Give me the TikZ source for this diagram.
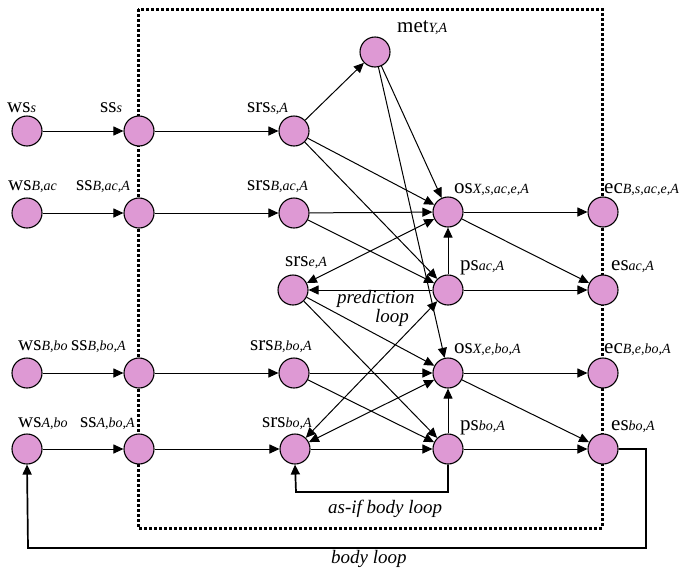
\documentclass[tikz,border=0pt]{standalone}
\usepackage{fontspec}
\setmainfont{Liberation Serif}
\usetikzlibrary{arrows.meta}
\definecolor{nodepink}{RGB}{222,153,212}
\newcommand{\lbl}[2]{{\fontsize{21}{21}\selectfont #1}{\fontsize{14}{14}\selectfont\itshape #2}}
\begin{document}
\begin{tikzpicture}[x=1pt,y=-1pt,
  st/.style={circle,draw,fill=nodepink,line width=1.1pt,minimum size=30pt,inner sep=0pt},
  lab/.style={anchor=base west,inner sep=0pt},
  loopl/.style={anchor=base west,inner sep=0pt,font=\fontsize{19}{19}\selectfont\itshape},
  arr/.style={-{Triangle[length=10pt,width=9pt]},line width=1pt},
  darr/.style={{Triangle[length=10pt,width=9pt]}-{Triangle[length=10pt,width=9pt]},line width=1pt}]
\useasboundingbox (0,0) rectangle (684,573);
\draw[line width=3pt,dash pattern=on 2.6pt off 2.4pt] (138,9) rectangle (602,528);
% nodes
\node[st] (wss) at (27,131) {};
\node[st] (sss) at (139,131) {};
\node[st] (srss) at (294,131) {};
\node[st] (met) at (375,52) {};
\node[st] (wsbac) at (27,213) {};
\node[st] (ssbac) at (139,213) {};
\node[st] (srsbac) at (294,213) {};
\node[st] (osac) at (448,212) {};
\node[st] (ecac) at (603,212) {};
\node[st] (srse) at (293,290) {};
\node[st] (psac) at (448,290) {};
\node[st] (esac) at (603,290) {};
\node[st] (wsbbo) at (27,373) {};
\node[st] (ssbbo) at (139,373) {};
\node[st] (srsbbo) at (294,373) {};
\node[st] (osbo) at (448,373) {};
\node[st] (ecbo) at (603,373) {};
\node[st] (wsabo) at (27,449) {};
\node[st] (ssabo) at (139,449) {};
\node[st] (srsbo) at (295,449) {};
\node[st] (psbo) at (448,449) {};
\node[st] (esbo) at (603,449) {};
% labels
\node[lab] (l1) at (7,112) {\lbl{ws}{s}};
\node[lab] (l2) at (100,112) {\lbl{ss}{s}};
\node[lab] (l3) at (247,112) {\lbl{srs}{s,A}};
\node[lab] (l4) at (397,32) {\lbl{met}{Y,A}};
\node[lab] (l5) at (8,190) {\lbl{ws}{B,ac}};
\node[lab] (l6) at (76,190) {\lbl{ss}{B,ac,A}};
\node[lab] (l7) at (247,190) {\lbl{srs}{B,ac,A}};
\node[lab] (l8) at (454,193) {\lbl{os}{X,s,ac,e,A}};
\node[lab] (l9) at (604,193) {\lbl{ec}{B,s,ac,e,A}};
\node[lab] (l10) at (285,266) {\lbl{srs}{e,A}};
\node[lab] (l11) at (460,270) {\lbl{ps}{ac,A}};
\node[lab] (l12) at (611,270) {\lbl{es}{ac,A}};
\node[lab] (l13) at (18,350) {\lbl{ws}{B,bo}};
\node[lab] (l14) at (71,350) {\lbl{ss}{B,bo,A}};
\node[lab] (l15) at (250,350) {\lbl{srs}{B,bo,A}};
\node[lab] (l16) at (454,353) {\lbl{os}{X,e,bo,A}};
\node[lab] (l17) at (604,353) {\lbl{ec}{B,e,bo,A}};
\node[lab] (l18) at (18,427) {\lbl{ws}{A,bo}};
\node[lab] (l19) at (80,427) {\lbl{ss}{A,bo,A}};
\node[lab] (l20) at (262,427) {\lbl{srs}{bo,A}};
\node[lab] (l21) at (460,430) {\lbl{ps}{bo,A}};
\node[lab] (l22) at (611,430) {\lbl{es}{bo,A}};
\node[loopl] (pl1) at (337,303) {prediction};
\node[loopl] (pl2) at (375,322) {loop};
\node[loopl] (al) at (328,513) {as-if body loop};
\node[loopl] (bl) at (331,563) {body loop};
% sensory chains
\draw[arr] (wss) -- (sss);
\draw[arr] (sss) -- (srss);
\draw[arr] (wsbac) -- (ssbac);
\draw[arr] (ssbac) -- (srsbac);
\draw[arr] (wsbbo) -- (ssbbo);
\draw[arr] (ssbbo) -- (srsbbo);
\draw[arr] (wsabo) -- (ssabo);
\draw[arr] (ssabo) -- (srsbo);
% internal
\draw[arr] (srss) -- (met);
\draw[arr] (srss) -- (osac);
\draw[arr] (srss) -- (psac);
\draw[arr] (met) -- (osac);
\draw[arr] (met) -- (osbo);
\draw[arr] (srsbac) -- (osac);
\draw[arr] (srsbac) -- (psac);
\draw[darr] (srse) -- (osac);
\draw[arr] (psac) -- (srse);
\draw[arr] (srse) -- (osbo);
\draw[arr] (srse) -- (psbo);
\draw[arr] (srsbbo) -- (osbo);
\draw[arr] (srsbbo) -- (psbo);
\draw[darr] (srsbo) -- (psac);
\draw[darr] (srsbo) -- (osbo);
\draw[arr] (srsbo) -- (psbo);
\draw[arr] (psac) -- (osac);
\draw[arr] (psbo) -- (osbo);
\draw[arr] (osac) -- (ecac);
\draw[arr] (osac) -- (esac);
\draw[arr] (psac) -- (esac);
\draw[arr] (osbo) -- (ecbo);
\draw[arr] (osbo) -- (esbo);
\draw[arr] (psbo) -- (esbo);
% loops
\draw[arr,line width=1.7pt] (psbo.south) |- (296,492) -- (srsbo.south);
\draw[arr,line width=1.7pt] (esbo.east) -- (646,449) |- (28,548) -- (wsabo.south);
\end{tikzpicture}
\end{document}
